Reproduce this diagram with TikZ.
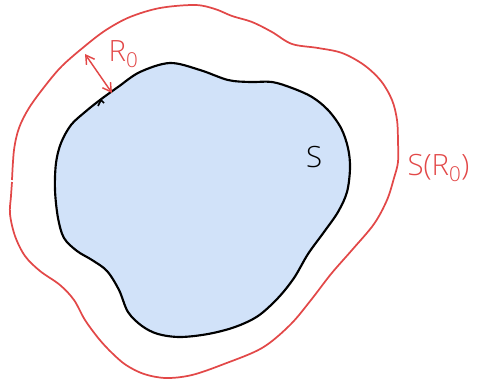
\documentclass[tikz,border=0pt]{standalone}
\usepackage{fontspec}
\setmainfont{Open Sans Light}
\usetikzlibrary{positioning, arrows.meta}

\definecolor{blobfill}{RGB}{209,226,249}
\definecolor{penred}{RGB}{226,72,72}

\begin{document}
\begin{tikzpicture}[
    x=0.75pt, y=-0.75pt,
    inner curve/.style={draw=black, line width=1.6pt, fill=blobfill},
    outer curve/.style={draw=penred, line width=1.3pt},
    >={Straight Barb[length=2.2mm, width=2.6mm]},
    tag/.style={font=\fontsize{22}{24}\selectfont, inner sep=1pt},
]
    \useasboundingbox (0,0) rectangle (477,385);

    % the set S
    \draw[inner curve] plot[smooth cycle, tension=0.55] coordinates {
        (100,100) (118,87) (140,72) (170,63) (200,70) (228,80) (250,82)
        (272,82) (292,88) (312,97) (328,110) (341,128) (348,148) (350,168)
        (347,192) (338,212) (324,232) (308,254) (294,278) (278,298)
        (258,316) (235,327) (208,334) (180,337) (158,334) (142,326)
        (128,312) (119,290) (107,271) (92,260) (77,251) (64,238) (58,218)
        (55,190) (56,163) (61,143) (71,125) (85,112)};
    \draw[line width=1.2pt] (98,106) -- (101,100) -- (104,103);

    % the outer curve S(R0)
    \draw[outer curve] plot[smooth, tension=0.55] coordinates {
        (12,180) (14,150) (19,128) (29,108) (45,86) (62,66) (85,46)
        (106,30) (130,17) (160,8) (195,5) (215,9) (232,16) (252,22)
        (272,32) (292,44) (318,48) (342,53) (364,65) (381,81) (392,100)
        (397,120) (398,142) (398,162) (394,178) (387,200) (374,224)
        (352,250) (331,274) (311,300) (290,325) (262,348) (224,364)
        (192,375) (166,378) (144,374) (126,365) (112,353) (99,339)
        (85,320) (74,300) (60,285) (40,271) (25,256) (15,236) (10,214)
        (11,196) (12,182)};

    \coordinate (edge)  at (112,93);
    \coordinate (shell) at (85,54);
    \draw[<->, penred, line width=1.1pt] (edge) -- (shell);

    \node[tag, penred, anchor=west] (radius) at (107,54) {R\textsubscript{0}};
    \node[tag] (setS) at (314,157) {S};
    \node[tag, penred, anchor=west] (shellS) at (406,168) {S(R\textsubscript{0})};
\end{tikzpicture}
\end{document}
